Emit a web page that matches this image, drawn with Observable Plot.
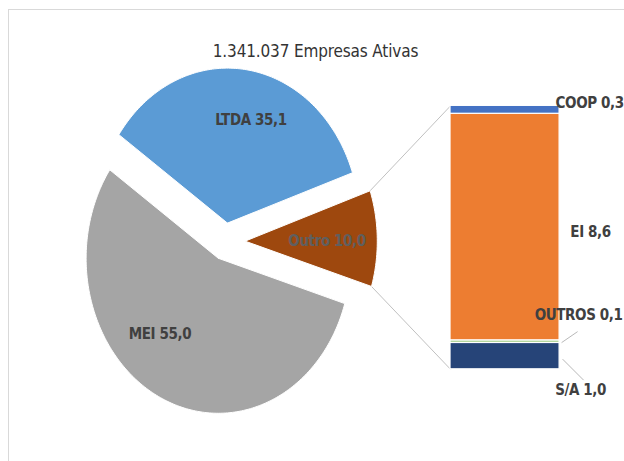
<!DOCTYPE html>
<html>
<head>
<meta charset="utf-8">
<script src="https://cdn.jsdelivr.net/npm/d3@7"></script>
<script src="https://cdn.jsdelivr.net/npm/@observablehq/plot@0.6"></script>
<style>
  body { margin: 0; background: #fff; }
  #wrap { position: relative; width: 624px; height: 461px; overflow: hidden; background: #fff; }
  #frame { position: absolute; left: 8px; top: 9px; width: 700px; height: 520px; border: 1px solid #d9d9d9; }
  #chart { position: absolute; left: 0; top: 0; }
  #chart svg text { font-family: "Liberation Sans Narrow", "DejaVu Sans Condensed", "Open Sans", sans-serif; letter-spacing: -0.4px; }
  #chart svg text.title { letter-spacing: -0.15px; }
</style>
</head>
<body>
<div id="wrap"><div id="frame"></div><div id="chart"></div></div>
<script>
// ---- data ----
const titleText = "1.341.037 Empresas Ativas";
const pieCategories = ["Outro", "LTDA", "MEI"];
const pieValues = [10.0, 35.1, 55.0];
const pieLabels = ["Outro 10,0", "LTDA 35,1", "MEI 55,0"];
const barCategories = ["S/A", "OUTROS", "EI", "COOP"];
const barValues = [1.0, 0.1, 8.6, 0.3];
const barLabels = ["S/A 1,0", "OUTROS 0,1", "EI 8,6", "COOP 0,3"];

// ---- styles ----
const pieColors = {Outro: "#9E480E", LTDA: "#5B9BD5", MEI: "#A5A5A5"};
const barColors = ["#264478", "#A9D18E", "#ED7D31", "#4472C4"];
const labelInk = "#404040";

// ---- layout ----
const W = 624, H = 461;
const X_DOMAIN = [-1.7, 3.02], Y_DOMAIN = [-3.5, 14];
const pxX = W / (X_DOMAIN[1] - X_DOMAIN[0]);
const pxY = H / (Y_DOMAIN[1] - Y_DOMAIN[0]);
const PIE = {cx: 0, cy: 4.85, rx: 1, ry: 155 / pxY, start: -17};
const explode = {Outro: 0.15, LTDA: 0.12, MEI: 0.12};
const labelPlace = {Outro: {r: 0.62, ang: 0}, LTDA: {r: 0.69, ang: 75}, MEI: {r: 0.66, ang: 228}};
const BAR = {x1: 1.704, x2: 2.529};
const rad = d => d * Math.PI / 180;

// ---- pie geometry from values ----
const total = d3.sum(pieValues);
let acc = PIE.start;
const slices = pieCategories.map((c, i) => {
  const span = pieValues[i] / total * 360;
  const s = {category: c, label: pieLabels[i], a0: acc, a1: acc + span};
  acc += span;
  const mid = (s.a0 + s.a1) / 2;
  s.vx = PIE.cx + explode[c] * Math.cos(rad(mid)) * PIE.rx;
  s.vy = PIE.cy + explode[c] * Math.sin(rad(mid)) * PIE.ry;
  const pts = [{x: s.vx, y: s.vy}];
  const n = Math.max(2, Math.ceil(span));
  for (let k = 0; k <= n; k++) {
    const t = s.a0 + span * k / n;
    pts.push({x: s.vx + PIE.rx * Math.cos(rad(t)), y: s.vy + PIE.ry * Math.sin(rad(t))});
  }
  pts.push({x: s.vx, y: s.vy});
  s.points = pts;
  const lp = labelPlace[c];
  s.lx = s.vx + lp.r * PIE.rx * Math.cos(rad(lp.ang));
  s.ly = s.vy + lp.r * PIE.ry * Math.sin(rad(lp.ang));
  return s;
});
const outro = slices.find(s => s.category === "Outro");
const outroStart = outro.points[1], outroEnd = outro.points[outro.points.length - 2];

// ---- bar data ----
const barData = barCategories.map((c, i) => ({category: c, value: barValues[i], label: barLabels[i]}));
const ends = d3.cumsum(barValues);
barData.forEach((d, i) => { d.top = ends[i]; d.bottom = ends[i] - d.value; d.mid = (d.top + d.bottom) / 2; });
const barTotal = ends[ends.length - 1];
const byCat = Object.fromEntries(barData.map(d => [d.category, d]));

// label offsets (pixels) relative to segment mid at bar right edge
const barLabelStyle = {
  "COOP":   {dx: -4, dy: -7, anchor: "start"},
  "EI":     {dx: 31, dy: 5, anchor: "middle"},
  "OUTROS": {dx: 19, dy: -26, anchor: "middle"},
  "S/A":    {dx: 21, dy: 34, anchor: "middle"}
};
const leaders = [
  {cat: "OUTROS", from: [2, 1], to: [18, -10]},
  {cat: "S/A", from: [3, 3], to: [24, 24]}
].map(l => {
  const d = byCat[l.cat];
  return {
    x1: BAR.x2 + l.from[0] / pxX, y1: d.mid - l.from[1] / pxY,
    x2: BAR.x2 + l.to[0] / pxX, y2: d.mid - l.to[1] / pxY
  };
});

const marks = [];
// connectors between Outro slice and bar
marks.push(Plot.link([
  {x1: outroEnd.x, y1: outroEnd.y, x2: BAR.x1, y2: barTotal},
  {x1: outroStart.x, y1: outroStart.y, x2: BAR.x1, y2: 0}
], {x1: "x1", y1: "y1", x2: "x2", y2: "y2", stroke: "#b0b0b0", strokeWidth: 0.8}));

// pie slices
for (const s of slices) {
  marks.push(Plot.line(s.points, {x: "x", y: "y", fill: pieColors[s.category], stroke: "white", strokeWidth: 1, curve: "linear"}));
}
// pie labels
for (const s of slices) {
  marks.push(Plot.text([s], {x: "lx", y: "ly", text: "label", fill: s.category === "Outro" ? "#5f5f5f" : labelInk,
    fontSize: 15, fontWeight: "bold", textAnchor: "middle"}));
}
// stacked bar
marks.push(Plot.rectY(barData, {x1: BAR.x1, x2: BAR.x2, y: "value", fill: "category", stroke: "white", strokeWidth: 1.2}));
// leader lines
marks.push(Plot.link(leaders, {x1: "x1", y1: "y1", x2: "x2", y2: "y2", stroke: "#a6a6a6", strokeWidth: 0.8}));
// bar labels
for (const d of barData) {
  const st = barLabelStyle[d.category];
  marks.push(Plot.text([d], {x: () => BAR.x2, y: "mid", text: "label", fill: labelInk, fontSize: 15, fontWeight: "bold",
    textAnchor: st.anchor, dx: st.dx, dy: st.dy}));
}
// title
marks.push(Plot.text([titleText], {frameAnchor: "top", text: d => d, dx: 3, dy: 44, fontSize: 17, fill: "#333333", className: "title"}));

const chart = Plot.plot({
  width: W, height: H,
  margin: 0,
  x: {domain: X_DOMAIN, range: [0, W], axis: null},
  y: {domain: Y_DOMAIN, range: [H, 0], axis: null},
  color: {domain: barCategories, range: barColors},
  style: {background: "transparent", overflow: "visible"},
  marks
});
chart.querySelectorAll("g.title text, .title text").forEach(t => t.classList.add("title"));
document.getElementById("chart").appendChild(chart);
</script>
</body>
</html>
